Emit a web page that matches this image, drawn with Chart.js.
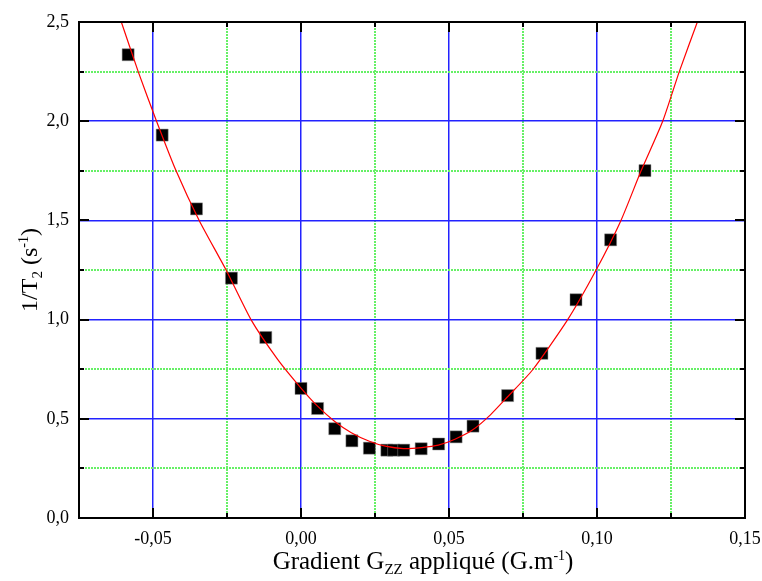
<!DOCTYPE html>
<html>
<head>
<meta charset="utf-8">
<script src="https://cdn.jsdelivr.net/npm/chart.js@4"></script>
<style>
  body { margin: 0; background: #fff; }
  canvas { display: block; }
</style>
</head>
<body>
<canvas id="chart" width="762" height="581"></canvas>
<script>
// Measured points (gradient in G/m, relaxation rate 1/T2 in s-1)
const gradient = [-0.0584, -0.0469, -0.0353, -0.0235, -0.0119, 0.0, 0.0056, 0.0114, 0.0172, 0.0231,
  0.0290, 0.0313, 0.0347, 0.0406, 0.0465, 0.0524, 0.0581, 0.0698, 0.0814, 0.0929, 0.1046, 0.1162];
const rate = [2.335, 1.930, 1.558, 1.209, 0.910, 0.653, 0.552, 0.450, 0.389, 0.352,
  0.342, 0.342, 0.342, 0.349, 0.373, 0.409, 0.463, 0.617, 0.830, 1.100, 1.402, 1.751];

// Fitted curve
const fitX = [-0.0607, -0.0550, -0.0488, -0.0422, -0.0344, -0.0253, -0.0169, -0.0079, 0.0, 0.0055,
  0.0113, 0.0170, 0.0231, 0.0285, 0.0346, 0.0407, 0.0464, 0.0520, 0.0579, 0.0640, 0.0698, 0.0782,
  0.0901, 0.0997, 0.1081, 0.1149, 0.1222, 0.1278, 0.1339];
const fitY = [2.50, 2.25, 2.00, 1.75, 1.50, 1.25, 1.00, 0.80, 0.655, 0.565,
  0.488, 0.430, 0.387, 0.362, 0.350, 0.355, 0.367, 0.397, 0.443, 0.520, 0.611, 0.746,
  1.00, 1.25, 1.50, 1.75, 2.00, 2.25, 2.50];

// Axis ticks
const xMin = -0.075, xMax = 0.15, xStep = 0.025, xMajor = 0.05;
const yMin = 0, yMax = 2.5, yStep = 0.25, yMajor = 0.5;

const FONT = "'Liberation Serif', 'Times New Roman', serif";

function isMajor(v, step) {
  return Math.abs(Math.round(v / step) * step - v) < 1e-9;
}

// Text with sub/superscripts: runs of [text, size, dy]
function drawRuns(ctx, runs, cx, baseY) {
  let total = 0;
  runs.forEach((r) => {
    ctx.font = r[1] + "px " + FONT;
    total += ctx.measureText(r[0]).width;
  });
  let x = cx - total / 2;
  runs.forEach((r) => {
    ctx.font = r[1] + "px " + FONT;
    ctx.fillText(r[0], x, baseY + r[2]);
    x += ctx.measureText(r[0]).width;
  });
}

// Frame, inward ticks on all four sides, axis titles
const framePlugin = {
  id: "frame",
  afterDraw(chart) {
    const { ctx, chartArea: a, scales } = chart;
    ctx.save();
    ctx.strokeStyle = "#000";
    ctx.lineWidth = 2;
    ctx.beginPath();
    scales.x.ticks.forEach((t) => {
      const px = Math.round(scales.x.getPixelForValue(t.value));
      const len = isMajor(t.value, xMajor) ? 10 : 5;
      ctx.moveTo(px, a.bottom); ctx.lineTo(px, a.bottom - len);
      ctx.moveTo(px, a.top); ctx.lineTo(px, a.top + len);
    });
    scales.y.ticks.forEach((t) => {
      const py = Math.round(scales.y.getPixelForValue(t.value));
      const len = isMajor(t.value, yMajor) ? 10 : 5;
      ctx.moveTo(a.left, py); ctx.lineTo(a.left + len, py);
      ctx.moveTo(a.right, py); ctx.lineTo(a.right - len, py);
    });
    ctx.stroke();
    ctx.strokeRect(a.left, a.top, a.right - a.left, a.bottom - a.top);

    ctx.fillStyle = "#000";
    ctx.textBaseline = "alphabetic";
    ctx.textAlign = "left";
    drawRuns(ctx, [["Gradient G", 25, 0], ["ZZ", 15, 5], [" appliqué (G.m", 25, 0], ["-1", 14, -9], [")", 25, 0]],
      (a.left + a.right) / 2 + 11, 569);

    ctx.translate(37, (a.top + a.bottom) / 2);
    ctx.rotate(-Math.PI / 2);
    drawRuns(ctx, [["1/T", 24, 0], ["2", 15, 5], [" (s", 24, 0], ["-1", 14, -9], [")", 24, 0]], 0, 0);
    ctx.restore();
  },
};

function gridColor(step) {
  return (c) => (isMajor(c.tick.value, step) ? "#2222ff" : "#66f066");
}
function gridWidth(step) {
  return (c) => (isMajor(c.tick.value, step) ? 1.5 : 2);
}
function gridDash(step) {
  return (c) => (c.tick && !isMajor(c.tick.value, step) ? [2, 1] : []);
}

const ctx = document.getElementById("chart").getContext("2d");
const chart = new Chart(ctx, {
  type: "scatter",
  data: {
    datasets: [
      {
        label: "fit",
        data: fitX.map((x, i) => ({ x: x, y: fitY[i] })),
        showLine: true,
        borderColor: "#ff0000",
        borderWidth: 1.2,
        pointRadius: 0,
        tension: 0.2,
        fill: false,
      },
      {
        label: "1/T2",
        data: gradient.map((x, i) => ({ x: x, y: rate[i] })),
        pointStyle: "rect",
        pointRadius: 8.5,
        backgroundColor: "#000",
        borderColor: "#888",
        borderWidth: 0.5,
      },
    ],
  },
  options: {
    responsive: false,
    animation: false,
    layout: { padding: { top: 22, right: 17, left: 0, bottom: 0 } },
    plugins: { legend: { display: false }, tooltip: { enabled: false } },
    scales: {
      x: {
        type: "linear",
        min: xMin,
        max: xMax,
        afterFit: (s) => { s.height = 63; s.paddingLeft = 0; s.paddingRight = 0; },
        ticks: {
          stepSize: xStep,
          autoSkip: false,
          maxRotation: 0,
          padding: 10,
          color: "#000",
          font: { family: FONT, size: 18 },
          callback: (v) => (isMajor(v, xMajor) ? v.toFixed(2).replace(".", ",") : ""),
        },
        grid: { color: gridColor(xMajor), lineWidth: gridWidth(xMajor), drawTicks: false },
        border: { display: false, dash: gridDash(xMajor) },
      },
      y: {
        type: "linear",
        min: yMin,
        max: yMax,
        afterFit: (s) => { s.width = 79; s.paddingTop = 0; s.paddingBottom = 0; },
        ticks: {
          stepSize: yStep,
          autoSkip: false,
          padding: 10,
          color: "#000",
          font: { family: FONT, size: 18 },
          callback: (v) => (isMajor(v, yMajor) ? v.toFixed(1).replace(".", ",") : ""),
        },
        grid: { color: gridColor(yMajor), lineWidth: gridWidth(yMajor), drawTicks: false },
        border: { display: false, dash: gridDash(yMajor) },
      },
    },
  },
  plugins: [framePlugin],
});
</script>
</body>
</html>
